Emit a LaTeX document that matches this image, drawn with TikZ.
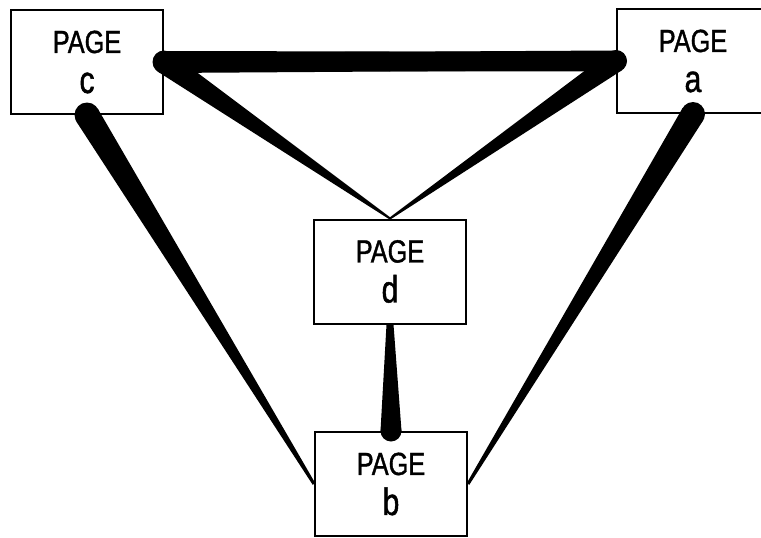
\documentclass[tikz,border=0pt]{standalone}
\usepackage{fontspec}
\setmainfont{Liberation Sans}[FakeStretch=0.79,FakeBold=1.2]
\usetikzlibrary{calc}

% tapered link: thick end (with a round blob) at #1, thin end at #2
\newcommand{\pagelink}[4]{%
  \fill ($(#1)!#3!90:(#2)$) -- ($(#2)!#4!-90:(#1)$) -- ($(#2)!#4!90:(#1)$) -- ($(#1)!#3!-90:(#2)$) -- cycle;
  \fill (#1) circle (#3);
}
\newcommand{\pageid}[1]{{\fontsize{38}{40}\selectfont #1}}

\tikzset{
  pagebox/.style={draw, line width=2pt, rectangle, minimum width=152pt, minimum height=104pt,
    inner sep=0pt, align=center, font=\fontsize{32}{40}\selectfont}
}

\begin{document}
\begin{tikzpicture}[x=1pt,y=-1pt]
    \clip (0,0) rectangle (761,538);
    \fill[white] (0,0) rectangle (761,538);

    \node[pagebox] (c) at (87,62) {PAGE\\\pageid{c}};
    \node[pagebox] (a) at (693,61) {PAGE\\\pageid{a}};
    \node[pagebox] (d) at (390,271.5) {PAGE\\\pageid{d}};
    \node[pagebox] (b) at (391,484) {PAGE\\\pageid{b}};

    \pagelink{c.east}{a.west}{11pt}{9pt}
    \pagelink{a.west}{c.east}{10.5pt}{9pt}
    \pagelink{c.east}{d.north}{11.5pt}{1pt}
    \pagelink{a.west}{d.north}{11pt}{1pt}
    \pagelink{c.south}{b.west}{12.5pt}{1.5pt}
    \pagelink{a.south}{b.east}{12pt}{1.5pt}
    \pagelink{b.north}{d.south}{10.5pt}{3.5pt}

\end{tikzpicture}
\end{document}
